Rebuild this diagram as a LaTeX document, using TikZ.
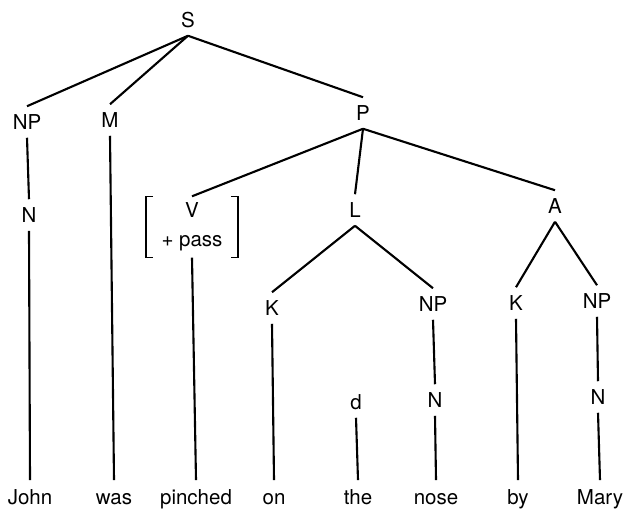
\documentclass[tikz,border=0pt]{standalone}
\usepackage{fontspec}
\setmainfont{TeX Gyre Heros}

\begin{document}
\begin{tikzpicture}[x=0.03cm,y=-0.03cm,
  every node/.style={font=\fontsize{17.5}{25}\selectfont},
  cat/.style={inner xsep=2pt,inner ysep=7pt,text height=12.5pt,text depth=0pt},
  word/.style={cat,inner ysep=8pt},
  branch/.style={line width=1.8pt},
  bracket/.style={line width=1.1pt}]
  \useasboundingbox (0,0) rectangle (627,515);
  % categories
  \node[cat] (S) at (188,20) {S};
  \node[cat] (NPj) at (27,122) {NP};
  \node[cat] (M) at (110,120) {M};
  \node[cat] (P) at (363,113) {P};
  \node[cat] (Nj) at (29,215) {N};
  \node[align=center,inner sep=0pt,minimum width=78pt,minimum height=52pt] (V) at (192,227) {V\\+ pass};
  \draw[bracket] ([xshift=6pt]V.north west) -- (V.north west) -- (V.south west) -- ([xshift=6pt]V.south west);
  \draw[bracket] ([xshift=-6pt]V.north east) -- (V.north east) -- (V.south east) -- ([xshift=-6pt]V.south east);
  \node[cat] (L) at (355,210) {L};
  \node[cat] (A) at (555,206) {A};
  \node[cat] (Kl) at (272,308) {K};
  \node[cat] (NPl) at (433,304) {NP};
  \node[cat] (Ka) at (516,303) {K};
  \node[cat] (NPa) at (597,301) {NP};
  \node[cat] (d) at (356,402) {d};
  \node[cat] (Nl) at (435,400) {N};
  \node[cat] (Na) at (598,397) {N};
  % words
  \foreach \name/\x in {John/30,was/114,pinched/196,on/274,the/358,nose/436,by/518,Mary/600}
    \node[word] (w\name) at (\x,497) {\name};
  % branches
  \foreach \a/\b in {S/NPj,S/M,S/P,NPj/Nj,Nj/wJohn,M/wwas,P/V,P/L,P/A,V/wpinched,
                     L/Kl,L/NPl,A/Ka,A/NPa,Kl/won,d/wthe,NPl/Nl,Nl/wnose,Ka/wby,NPa/Na,Na/wMary}
    \draw[branch] (\a.south) -- (\b.north);
\end{tikzpicture}
\end{document}
